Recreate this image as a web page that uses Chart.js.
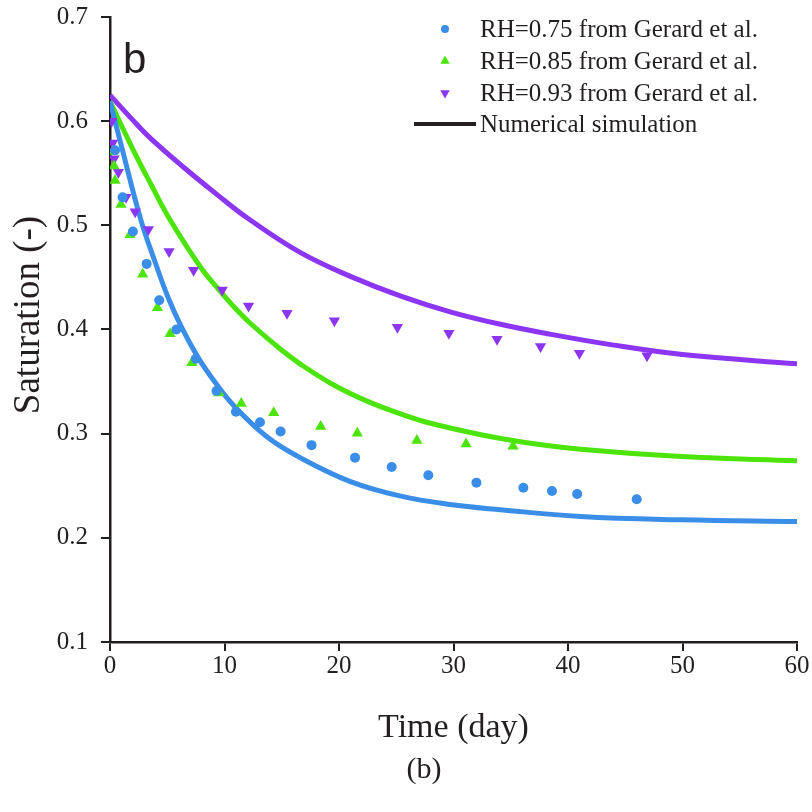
<!DOCTYPE html>
<html>
<head>
<meta charset="utf-8">
<script src="https://cdn.jsdelivr.net/npm/chart.js@4.4.1/dist/chart.umd.min.js"></script>
<style>
  html, body { margin: 0; padding: 0; background: #ffffff; }
  #wrap { width: 812px; height: 812px; }
</style>
</head>
<body>
<div id="wrap"><canvas id="c" width="812" height="812"></canvas></div>
<script>
// ---------- data ----------
// Experimental points (Gerard et al.)
const t075 = [0.44, 1.1, 2.0, 3.2, 4.3, 5.8, 7.5, 9.3, 11.0, 13.1, 14.9, 17.6, 21.4, 24.6, 27.8, 32.0, 36.1, 38.6, 40.8, 46.0];
const s075 = [0.572, 0.527, 0.494, 0.463, 0.428, 0.400, 0.372, 0.341, 0.321, 0.311, 0.302, 0.289, 0.277, 0.268, 0.260, 0.253, 0.248, 0.245, 0.242, 0.237];

const t085 = [0.23, 0.35, 0.44, 0.96, 1.75, 2.86, 4.14, 5.25, 7.15, 9.5, 11.46, 14.3, 18.4, 21.6, 26.8, 31.1, 35.2];
const s085 = [0.571, 0.557, 0.543, 0.520, 0.491, 0.453, 0.421, 0.396, 0.368, 0.339, 0.329, 0.320, 0.307, 0.3005, 0.2935, 0.290, 0.288];

const t093 = [0.15, 0.23, 0.35, 0.73, 1.4, 2.2, 3.35, 5.16, 7.3, 9.8, 12.1, 15.46, 19.6, 25.1, 29.6, 33.8, 37.6, 41.0, 46.9];
const s093 = [0.600, 0.579, 0.564, 0.551, 0.527, 0.513, 0.496, 0.475, 0.457, 0.438, 0.4226, 0.4156, 0.4083, 0.4022, 0.3964, 0.3907, 0.3836, 0.3773, 0.3747];

// Numerical simulation curves
const simT075 = [0, 1, 2.7, 3.9, 5.1, 6.3, 7.7, 9, 10.8, 13.7, 16.6, 21, 25.4, 29.7, 34.1, 41.1, 49.9, 60];
const simS075 = [0.619, 0.576, 0.505, 0.466, 0.430, 0.401, 0.373, 0.352, 0.327, 0.297, 0.277, 0.254, 0.240, 0.232, 0.227, 0.2205, 0.2173, 0.2157];

const simT085 = [0, 2, 3.5, 5.1, 7.9, 9.6, 10.8, 12.25, 14.9, 16.6, 19.5, 22.5, 25.4, 28, 32.4, 36, 41.1, 49.9, 60];
const simS085 = [0.619, 0.573, 0.541, 0.508, 0.460, 0.437, 0.422, 0.406, 0.381, 0.367, 0.347, 0.331, 0.319, 0.310, 0.299, 0.292, 0.285, 0.278, 0.274];

const simT093 = [0, 2, 3.5, 6.4, 9.3, 12, 16.6, 21, 25.4, 29.7, 34.1, 38.2, 44, 50, 60];
const simS093 = [0.625, 0.601, 0.584, 0.556, 0.530, 0.507, 0.474, 0.451, 0.432, 0.417, 0.405, 0.396, 0.385, 0.376, 0.367];

// Axis ticks / labels
const xTicks = [0, 10, 20, 30, 40, 50, 60];
const yTicks = [0.1, 0.2, 0.3, 0.4, 0.5, 0.6, 0.7];
const legendLabels = ["RH=0.75 from Gerard et al.", "RH=0.85 from Gerard et al.", "RH=0.93 from Gerard et al.", "Numerical simulation"];
const xTitle = "Time (day)";
const yTitle = "Saturation (-)";
const panelLetter = "b";
const caption = "(b)";

// ---------- styling ----------
const BLUE = '#3a8ee8';
const GREEN = '#4ce40a';
const PURPLE = '#8c35f2';
const AXIS = '#231f20';
const SERIF = '"Liberation Serif", "Times New Roman", serif';

function pts(ts, ss) { return ts.map((t, i) => ({ x: t, y: ss[i] })); }

const lineDs = (ts, ss, color) => ({
  data: pts(ts, ss), showLine: true, borderColor: color, backgroundColor: color,
  borderWidth: 5, pointRadius: 0, pointHoverRadius: 0, tension: 0.4, order: 2
});
const pointDs = (label, ts, ss, color, style, rot, r) => ({
  label, data: pts(ts, ss), showLine: false, pointStyle: style, pointRotation: rot,
  pointRadius: r, pointBorderWidth: 0, borderWidth: 0,
  backgroundColor: color, borderColor: color, order: 1
});

const datasets = [
  lineDs(simT075, simS075, BLUE),
  lineDs(simT085, simS085, GREEN),
  lineDs(simT093, simS093, PURPLE),
  pointDs(legendLabels[0], t075, s075, BLUE, 'circle', 0, 5),
  pointDs(legendLabels[1], t085, s085, GREEN, 'triangle', 0, 6.5),
  pointDs(legendLabels[2], t093, s093, PURPLE, 'triangle', 180, 6.5)
];

const extras = {
  id: 'extras',
  afterDraw(chart) {
    const ctx = chart.ctx;
    ctx.save();
    // y axis title
    ctx.fillStyle = AXIS;
    ctx.font = '37px ' + SERIF;
    ctx.textAlign = 'center';
    ctx.textBaseline = 'middle';
    ctx.save();
    ctx.translate(29, 315);
    ctx.rotate(-Math.PI / 2);
    ctx.fillText(yTitle, 0, 0);
    ctx.restore();
    // panel letter
    ctx.font = '42px "Liberation Sans", Arial, sans-serif';
    ctx.textAlign = 'left';
    ctx.textBaseline = 'alphabetic';
    ctx.fillText(panelLetter, 123, 73);
    // caption
    ctx.font = '30px ' + SERIF;
    ctx.textAlign = 'center';
    ctx.textBaseline = 'middle';
    ctx.fillText(caption, 424, 770);
    // legend
    const rows = [29, 61, 93, 124];
    const textX = 480, markX = 445;
    ctx.font = '25px ' + SERIF;
    ctx.textAlign = 'left';
    ctx.textBaseline = 'middle';
    const pdsets = [datasets[3], datasets[4], datasets[5]];
    pdsets.forEach((d, i) => {
      ctx.fillStyle = d.backgroundColor;
      Chart.helpers.drawPoint(ctx, {
        pointStyle: d.pointStyle, rotation: d.pointRotation, radius: d.pointRadius - 1, borderWidth: 0
      }, markX, rows[i]);
      ctx.fillStyle = AXIS;
      ctx.fillText(legendLabels[i], textX, rows[i] + 1);
    });
    ctx.strokeStyle = AXIS;
    ctx.lineWidth = 4;
    ctx.beginPath();
    ctx.moveTo(414, rows[3]);
    ctx.lineTo(476, rows[3]);
    ctx.stroke();
    ctx.fillText(legendLabels[3], textX, rows[3] + 1);
    ctx.restore();
  }
};

new Chart(document.getElementById('c'), {
  type: 'scatter',
  data: { datasets },
  options: {
    responsive: false,
    animation: false,
    events: [],
    layout: { padding: { left: 0, right: 15, top: 17, bottom: 0 } },
    plugins: { legend: { display: false }, tooltip: { enabled: false } },
    scales: {
      x: {
        type: 'linear', min: 0, max: 60,
        afterFit(s) { s.height = 170; },
        afterBuildTicks(s) { s.ticks = xTicks.map(v => ({ value: v })); },
        ticks: { color: AXIS, font: { family: SERIF, size: 25 }, padding: 0, maxRotation: 0,
                 callback: v => String(v) },
        grid: { display: true, drawOnChartArea: false, drawTicks: true, tickLength: 9, color: AXIS, lineWidth: 2 },
        border: { display: true, color: AXIS, width: 2.5 },
        title: { display: true, text: xTitle, color: AXIS, font: { family: SERIF, size: 34 }, padding: { top: 0, bottom: 64 } }
      },
      y: {
        type: 'linear', min: 0.1, max: 0.7,
        afterFit(s) { s.width = 110; s.paddingTop = 0; s.paddingBottom = 0; },
        afterBuildTicks(s) { s.ticks = yTicks.map(v => ({ value: v })); },
        ticks: { color: AXIS, font: { family: SERIF, size: 25 }, padding: 13,
                 callback: v => Number(v).toFixed(1) },
        grid: { display: true, drawOnChartArea: false, drawTicks: true, tickLength: 9, color: AXIS, lineWidth: 2 },
        border: { display: true, color: AXIS, width: 2.5 },
        title: { display: false, text: yTitle }
      }
    }
  },
  plugins: [extras]
});
</script>
</body>
</html>
